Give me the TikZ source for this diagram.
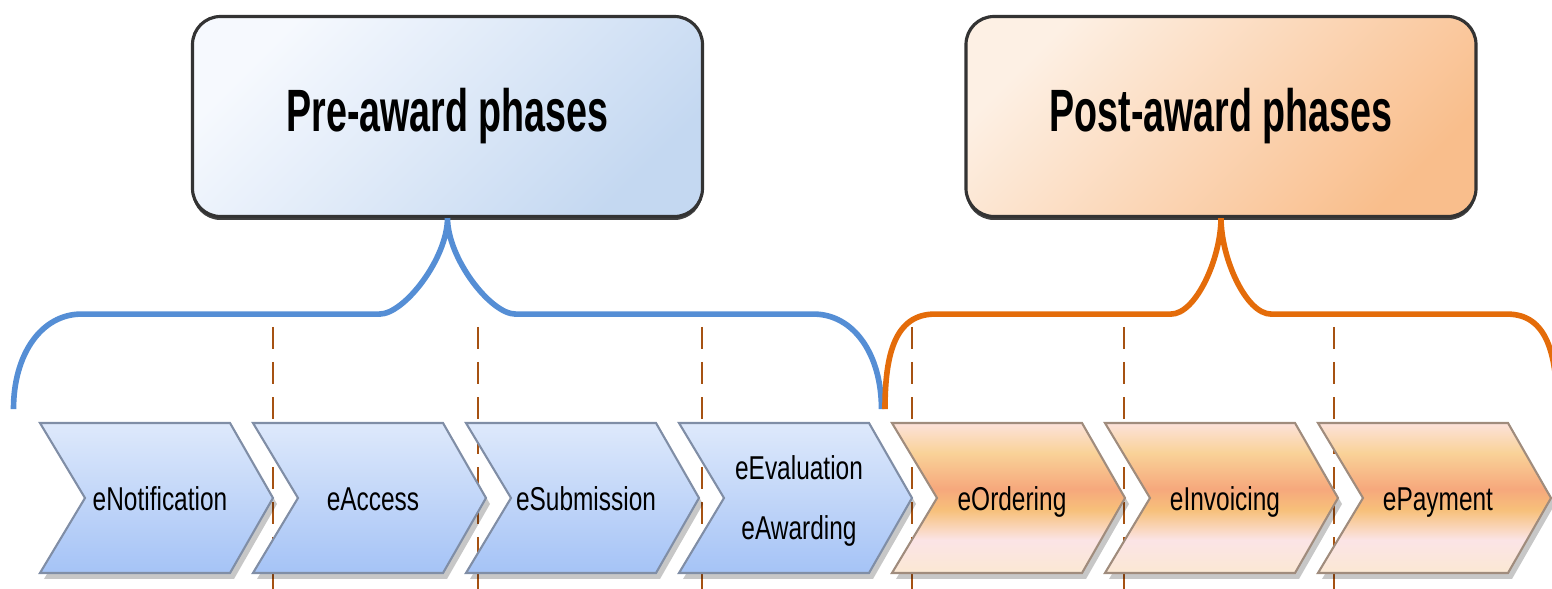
\documentclass[tikz,border=0pt]{standalone}
\usepackage{fontspec}
\usepackage{xcolor}
\usepackage{tikz}
\usetikzlibrary{shadows}
\newfontfamily\titlefont[FakeStretch=0.63]{Liberation Sans}
\newfontfamily\phasefont[FakeStretch=0.74]{Liberation Sans}
\definecolor{braceblue}{RGB}{85,142,213}
\definecolor{braceorange}{RGB}{228,108,10}
\definecolor{sepbrown}{RGB}{166,82,18}
\definecolor{preA}{RGB}{246,249,254}
\definecolor{preB}{RGB}{196,216,241}
\definecolor{postA}{RGB}{253,240,228}
\definecolor{postB}{RGB}{249,190,140}
\definecolor{chevblueT}{RGB}{222,233,251}
\definecolor{chevblueB}{RGB}{165,195,246}
\definecolor{chevblueD}{RGB}{128,142,166}
\definecolor{chevorangeD}{RGB}{160,140,125}
\definecolor{oc1}{RGB}{251,232,211}
\definecolor{oc2}{RGB}{251,228,230}
\definecolor{oc3}{RGB}{247,192,122}
\definecolor{oc4}{RGB}{246,168,124}
\definecolor{oc5}{RGB}{249,210,152}
\definecolor{oc6}{RGB}{252,226,218}
\pgfdeclareverticalshading{chevorange}{100bp}{color(0bp)=(oc1); color(25bp)=(oc1); color(36bp)=(oc2); color(46bp)=(oc3); color(53bp)=(oc4); color(65bp)=(oc5); color(75bp)=(oc6); color(100bp)=(oc6)}
\tikzset{
  phasebox/.style={rectangle, rounded corners=0.28cm, draw=black!80, line width=0.9pt,
    minimum width=5.1cm, minimum height=2.0cm,
    font={\titlefont\bfseries\fontsize{17}{20}\selectfont},
    drop shadow={shadow xshift=0pt, shadow yshift=-0.035cm, opacity=1, fill=black!75}},
  prebox/.style={top color=preA, bottom color=preB, shading angle=45},
  postbox/.style={top color=postA, bottom color=postB, shading angle=45},
  brace/.style={line width=1.6pt},
  phasesep/.style={sepbrown, line width=0.7pt, dash pattern=on 0.22cm off 0.13cm},
  chevshadow/.style={drop shadow={shadow xshift=0.04cm, shadow yshift=-0.06cm, opacity=0.22, fill=black}},
  bluechev/.style={chevshadow, draw=chevblueD, line width=0.6pt, top color=chevblueT, bottom color=chevblueB},
  orangechev/.style={chevshadow, draw=chevorangeD, line width=0.6pt, shading=chevorange},
  phaselbl/.style={font={\phasefont\fontsize{9.4}{11}\selectfont}, align=center, inner sep=0pt},
  oneline/.style={text height=0.30cm, text depth=0.06cm},
  twoline/.style={yshift=-0.03cm}
}
\begin{document}
\begin{tikzpicture}
  \useasboundingbox (0,0) rectangle (15.52,-5.89);
  % phase separators
  \foreach \x in {2.73,4.78,7.02,9.12,11.24,13.34}
    \draw[phasesep] (\x,-3.27) -- (\x,-5.89);

  \node[phasebox, prebox] (pre) at (4.475,-1.165) {Pre-award phases};
  \node[phasebox, postbox] (post) at (12.21,-1.165) {Post-award phases};

  % braces
  \foreach \nd/\w/\r/\col in {pre/4.34/0.68/braceblue, post/3.36/0.5/braceorange}
    \draw[brace, \col] (\nd.south) .. controls +(0,-0.4) and +(0.25,0) .. ++(-\r,-0.96)
        -- ++(-\w+2*\r,0) .. controls +(-0.4,0) and +(0,0.55) .. ++(-\r,-0.95)
      (\nd.south) .. controls +(0,-0.4) and +(-0.25,0) .. ++(\r,-0.96)
        -- ++(\w-2*\r,0) .. controls +(0.4,0) and +(0,0.55) .. ++(\r,-0.95);

  % chevrons
  \foreach \i/\lbl/\opt in {0/eNotification/oneline, 1/eAccess/oneline, 2/eSubmission/oneline,
      3/{eEvaluation\\[6pt]eAwarding}/twoline}{
    \draw[bluechev] (0.40+2.13*\i,-4.23) -- ++(1.90,0) -- ++(0.43,-0.75) -- ++(-0.43,-0.75)
      -- ++(-1.90,0) -- ++(0.45,0.75) -- cycle;
    \node[phaselbl, \opt] (ph\i) at (1.60+2.13*\i,-4.98) {\lbl};
  }
  \foreach \i/\lbl in {4/eOrdering, 5/eInvoicing, 6/ePayment}{
    \draw[orangechev] (0.40+2.13*\i,-4.23) -- ++(1.90,0) -- ++(0.43,-0.75) -- ++(-0.43,-0.75)
      -- ++(-1.90,0) -- ++(0.45,0.75) -- cycle;
    \node[phaselbl, oneline] (ph\i) at (1.60+2.13*\i,-4.98) {\lbl};
  }
\end{tikzpicture}
\end{document}
